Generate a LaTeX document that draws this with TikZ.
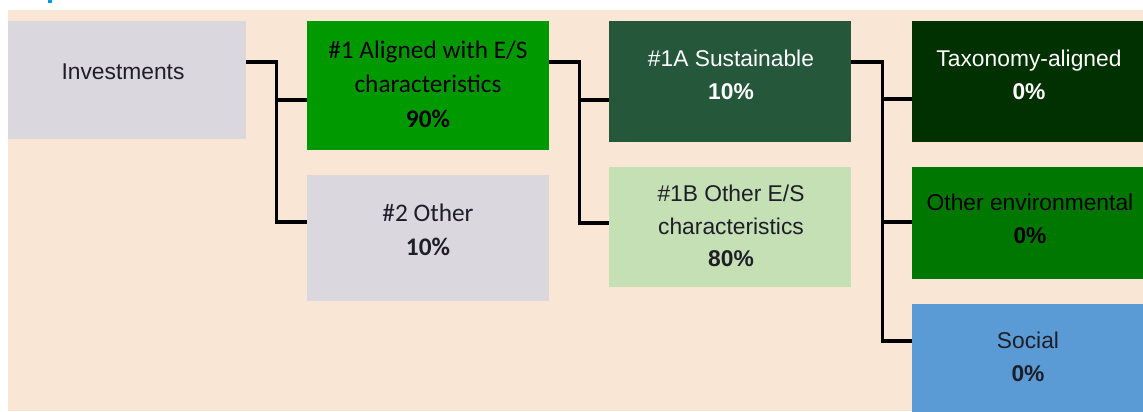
\documentclass[tikz,border=0pt]{standalone}
\usepackage{fontspec}
\setmainfont{Liberation Sans}
\newfontfamily\calibri{Carlito}
\usetikzlibrary{positioning,calc}
\definecolor{bgpeach}{RGB}{250,230,212}
\definecolor{boxgrey}{RGB}{218,216,222}
\definecolor{midgreen}{RGB}{0,153,0}
\definecolor{sustgreen}{RGB}{37,87,58}
\definecolor{palegreen}{RGB}{197,224,180}
\definecolor{deepgreen}{RGB}{1,49,1}
\definecolor{envgreen}{RGB}{0,119,0}
\definecolor{socblue}{RGB}{91,155,213}
\definecolor{headblue}{RGB}{0,153,224}
\definecolor{inkgrey}{RGB}{30,30,40}

\begin{document}
\begin{tikzpicture}[
    x=1pt, y=-1pt,
    box/.style={rectangle, anchor=north west, inner sep=0pt, minimum width=242pt},
    arial/.style={align=center, text=inkgrey, font=\fontsize{22.8}{32.5}\selectfont},
    calib/.style={arial, font=\calibri\fontsize{25.3}{34.5}\selectfont},
    conn/.style={line width=3.5pt, black}
]
    \useasboundingbox (0,0) rectangle (1143,412);
    \fill[bgpeach] (8,10) rectangle (1143,411);
    \fill[headblue] (48,0) rectangle (52,3);

    % boxes
    \node[box, fill=boxgrey, minimum width=238pt, minimum height=118pt] (inv) at (8,21) {};
    \node[box, fill=midgreen, minimum height=129pt] (ali) at (307,21) {};
    \node[box, fill=boxgrey, minimum height=126pt] (oth) at (307,175) {};
    \node[box, fill=sustgreen, minimum height=121pt] (sus) at (609,21) {};
    \node[box, fill=palegreen, minimum height=120pt] (ose) at (609,167) {};
    \node[box, fill=deepgreen, minimum width=232pt, minimum height=121pt] (tax) at (912,21) {};
    \node[box, fill=envgreen, minimum width=232pt, minimum height=112pt] (env) at (912,167) {};
    \node[box, fill=socblue, minimum width=232pt, minimum height=108pt] (soc) at (912,304) {};

    % texts
    \node[arial] (invt) at (123,72) {Investments};
    \node[calib, text=black] (alit) at (428,84) {\#1 Aligned with E/S\\characteristics\\\textbf{90\%}};
    \node[calib] (otht) at (428,230) {\#2 Other\\\textbf{10\%}};
    \node[arial, text=white] (sust) at (731,75) {\#1A Sustainable\\\textbf{10\%}};
    \node[arial] (oset) at (731,226) {\#1B Other E/S\\characteristics\\\textbf{80\%}};
    \node[arial, text=white] (taxt) at (1029,75) {Taxonomy-aligned\\\textbf{0\%}};
    \node[arial, text=black] (envt) at (1030,219) {Other environmental\\\textbf{0\%}};
    \node[arial] (soct) at (1028,357) {Social\\\textbf{0\%}};

    % connectors
    \draw[conn] ([yshift=-41pt]inv.north east) -- ++(30pt,0) |- ([yshift=-47pt]oth.north west);
    \draw[conn] ([yshift=-41pt]inv.north east) ++(30pt,0) |- ([yshift=-79pt]ali.north west);
    \draw[conn] ([yshift=-41pt]ali.north east) -- ++(30pt,0) |- ([yshift=-56pt]ose.north west);
    \draw[conn] ([yshift=-41pt]ali.north east) ++(30pt,0) |- ([yshift=-79pt]sus.north west);
    \draw[conn] ([yshift=-41pt]sus.north east) -- ++(31pt,0) |- ([yshift=-37pt]soc.north west);
    \draw[conn] ([yshift=-41pt]sus.north east) ++(31pt,0) |- ([yshift=-78pt]tax.north west);
    \draw[conn] ([yshift=-41pt]sus.north east) ++(31pt,0) |- ([yshift=-55pt]env.north west);
\end{tikzpicture}
\end{document}
